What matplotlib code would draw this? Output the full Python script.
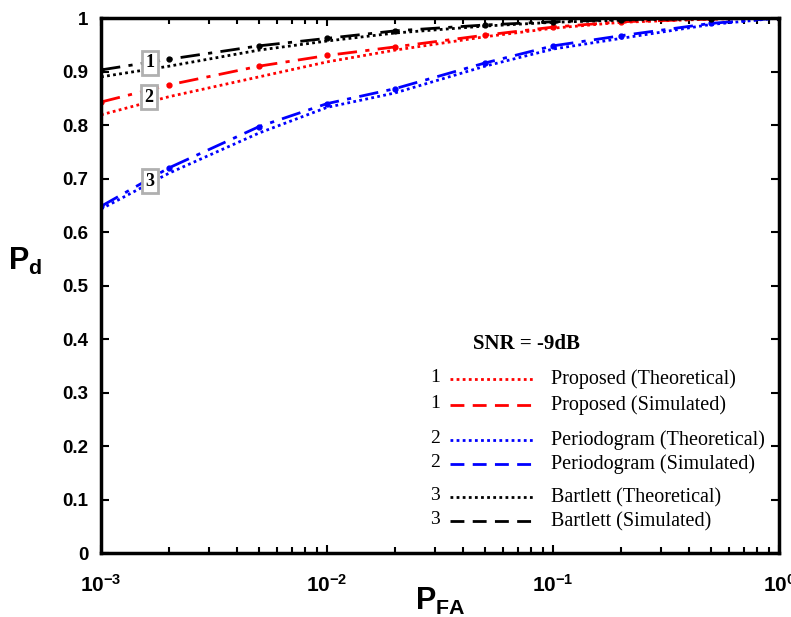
import numpy as np
import matplotlib
matplotlib.use("Agg")
import matplotlib.pyplot as plt
from matplotlib.ticker import FixedLocator, FuncFormatter, LogLocator, NullFormatter

plt.rcParams['font.family'] = ['Liberation Sans', 'DejaVu Sans']
plt.rcParams['mathtext.fontset'] = 'custom'
plt.rcParams['mathtext.rm'] = 'Liberation Sans:bold'
plt.rcParams['mathtext.it'] = 'Liberation Sans:bold'
plt.rcParams['mathtext.bf'] = 'Liberation Sans:bold'

# data
pfa = [1e-3, 2e-3, 5e-3, 1e-2, 2e-2, 5e-2, 0.1, 0.2, 0.5, 1.0]
prop_theo = [0.819, 0.853, 0.89, 0.918, 0.94, 0.965, 0.981, 0.992, 0.998, 1.0]
prop_sim = [0.843, 0.875, 0.91, 0.93, 0.946, 0.968, 0.983, 0.993, 0.998, 1.0]
perio_theo = [0.643, 0.71, 0.785, 0.833, 0.86, 0.91, 0.942, 0.962, 0.988, 1.0]
perio_sim = [0.648, 0.72, 0.797, 0.84, 0.868, 0.916, 0.948, 0.967, 0.99, 1.0]
bart_theo = [0.89, 0.91, 0.94, 0.957, 0.972, 0.985, 0.992, 0.996, 0.999, 1.0]
bart_sim = [0.903, 0.923, 0.948, 0.962, 0.976, 0.987, 0.993, 0.997, 0.999, 1.0]

yticks = [0, 0.1, 0.2, 0.3, 0.4, 0.5, 0.6, 0.7, 0.8, 0.9, 1]
ytick_labels = ['0', '0.1', '0.2', '0.3', '0.4', '0.5', '0.6', '0.7', '0.8', '0.9', '1']

legend_rows = [
    ('1', 'red', ':', 'Proposed (Theoretical)'),
    ('1', 'red', '--', 'Proposed (Simulated)'),
    ('2', 'blue', ':', 'Periodogram (Theoretical)'),
    ('2', 'blue', '--', 'Periodogram (Simulated)'),
    ('3', 'black', ':', 'Bartlett (Theoretical)'),
    ('3', 'black', '--', 'Bartlett (Simulated)'),
]
legend_y = [0.325, 0.277, 0.211, 0.166, 0.104, 0.059]

box_labels = ['1', '2', '3']
box_x = [1.65e-3, 1.63e-3, 1.65e-3]
box_y = [0.916, 0.852, 0.695]

fig = plt.figure(figsize=(7.91, 6.17), dpi=100)
ax = fig.add_axes([0.1277, 0.1037, 0.8573, 0.8671])

sim_style = dict(linestyle=(0, (7, 3, 1.5, 3)), linewidth=2, marker='o', markersize=3.5)
theo_style = dict(linestyle=(0, (1, 1.2)), linewidth=2)

ax.plot(pfa, prop_theo, color='red', **theo_style)
ax.plot(pfa, prop_sim, color='red', **sim_style)
ax.plot(pfa, perio_theo, color='blue', **theo_style)
ax.plot(pfa, perio_sim, color='blue', **sim_style)
ax.plot(pfa, bart_theo, color='black', **theo_style)
ax.plot(pfa, bart_sim, color='black', **sim_style)

ax.set_xscale('log')
ax.set_xlim(1e-3, 1)
ax.set_ylim(0, 1)

ax.yaxis.set_major_locator(FixedLocator(yticks))
ax.set_yticklabels(ytick_labels, fontsize=13.5, fontweight='bold')
ax.xaxis.set_major_locator(LogLocator(base=10, numticks=10))
ax.xaxis.set_minor_locator(LogLocator(base=10, subs=np.arange(2, 10), numticks=20))
ax.xaxis.set_minor_formatter(NullFormatter())
ax.xaxis.set_major_formatter(FuncFormatter(
    lambda v, p: r'$\mathrm{10^{%d}}$' % int(round(np.log10(v)))))
for t in ax.get_xticklabels():
    t.set_fontsize(15)

ax.tick_params(which='both', direction='in', top=True, right=True, width=1.5)
ax.tick_params(which='major', length=6)
ax.tick_params(axis='x', which='major', pad=15)
ax.tick_params(axis='y', which='major', pad=9)
ax.tick_params(which='minor', length=4)
for s in ax.spines.values():
    s.set_linewidth(2.5)

ax.set_xlabel(r'$\mathrm{P_{FA}}$', fontsize=22)
ax.xaxis.set_label_coords(0.5, -0.062)
ax.set_ylabel(r'$\mathrm{P_d}$', fontsize=22, rotation=0)
ax.yaxis.set_label_coords(-0.112, 0.515)

# numbered boxes next to the curves
for lab, bx, by in zip(box_labels, box_x, box_y):
    ax.text(bx, by, lab, family='Liberation Serif', fontweight='bold', fontsize=13,
            ha='center', va='center', zorder=5,
            bbox=dict(boxstyle='square,pad=0.2', facecolor='white',
                      edgecolor='#b0b0b0', linewidth=2))

# hand-made legend
ax.text(0.628, 0.39, 'SNR = -9dB', transform=ax.transAxes, family='Liberation Serif',
        fontweight='bold', fontsize=15, ha='center', va='center')
for (num, col, ls, txt), ly in zip(legend_rows, legend_y):
    style = (0, (1, 1.2)) if ls == ':' else (0, (5, 3))
    ax.text(0.5, ly + 0.003, num, transform=ax.transAxes, family='Liberation Serif',
            fontsize=14, ha='right', va='center')
    ax.plot([0.515, 0.64], [ly, ly], transform=ax.transAxes, color=col,
            linestyle=style, linewidth=2)
    ax.text(0.663, ly, txt, transform=ax.transAxes, family='Liberation Serif',
            fontsize=14.5, ha='left', va='center')

fig.savefig('out.png', dpi=100)
